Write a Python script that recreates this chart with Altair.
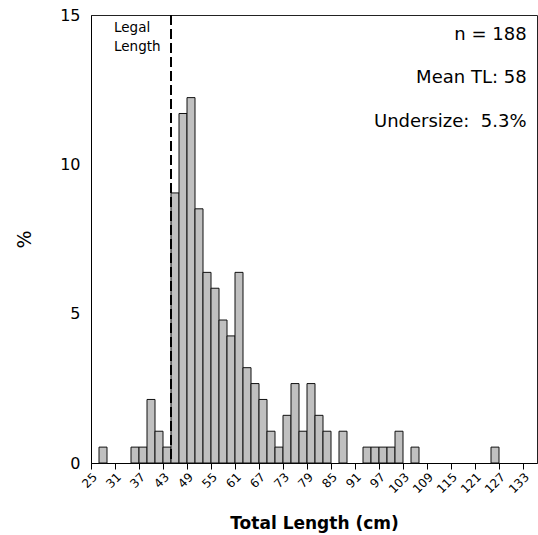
import altair as alt
import pandas as pd

# Histogram data: lower edge of each 2-cm bin and fish count in it
bin_start = [27, 35, 37, 39, 41, 43, 45, 47, 49, 51, 53, 55, 57, 59, 61, 63, 65,
             67, 69, 71, 73, 75, 77, 79, 81, 83, 87, 93, 95, 97, 99, 101, 105, 125]
counts = [1, 1, 1, 4, 2, 1, 17, 22, 23, 16, 12, 11, 9, 8, 12, 6, 5,
          4, 2, 1, 3, 5, 2, 5, 3, 2, 2, 1, 1, 1, 1, 2, 1, 1]
bin_width = 2
n_total = 188
legal_length = 45
x_ticks = list(range(25, 134, 6))
y_ticks = [0, 5, 10, 15]

stat_labels = ["n = 188", "Mean TL: 58", "Undersize:\u00a0 5.3%"]
stat_y = [14.33, 12.89, 11.42]
stat_x = [133.9, 133.9, 133.9]

legal_labels = ["Legal", "Length"]
legal_y = [14.55, 13.92]
legal_x = [30.75, 30.75]

FONT = "DejaVu Sans"

df = pd.DataFrame({
    "start": bin_start,
    "end": [s + bin_width for s in bin_start],
    "pct": [c / n_total * 100 for c in counts],
})

x_scale = alt.Scale(domain=[25, 136.5], nice=False, zero=False)
y_scale = alt.Scale(domain=[0, 15], nice=False)

x_axis = alt.Axis(values=x_ticks, labelAngle=-45, title="Total Length (cm)",
                  titleFontWeight="bold", titleFontSize=17, titlePadding=21,
                  labelFontSize=12, tickSize=6, labelPadding=2, grid=False,
                  labelFlush=False, labelOverlap=False, labelBound=False)
y_axis = alt.Axis(values=y_ticks, title="%", titleFontSize=19,
                  titleFontWeight="normal", titlePadding=25,
                  labelFontSize=16, ticks=False, tickSize=0, labelPadding=11,
                  grid=False)

bars = alt.Chart(df).mark_rect(fill="#c0c0c0", stroke="#111111", strokeWidth=1).encode(
    x=alt.X("start:Q", scale=x_scale, axis=x_axis),
    x2="end:Q",
    y=alt.Y("pct:Q", scale=y_scale, axis=y_axis),
    y2=alt.datum(0),
)

rule = alt.Chart(pd.DataFrame({"x": [legal_length]})).mark_rule(
    strokeDash=[10, 4], strokeWidth=2, color="black"
).encode(x=alt.X("x:Q", scale=x_scale, axis=x_axis))

stats = alt.Chart(pd.DataFrame({"x": stat_x, "y": stat_y, "t": stat_labels})).mark_text(
    align="right", baseline="middle", fontSize=18, font=FONT, color="black"
).encode(x=alt.X("x:Q", scale=x_scale, axis=x_axis),
         y=alt.Y("y:Q", scale=y_scale, axis=y_axis), text="t:N")

legal = alt.Chart(pd.DataFrame({"x": legal_x, "y": legal_y, "t": legal_labels})).mark_text(
    align="left", baseline="middle", fontSize=13.5, font=FONT, color="black"
).encode(x=alt.X("x:Q", scale=x_scale, axis=x_axis),
         y=alt.Y("y:Q", scale=y_scale, axis=y_axis), text="t:N")

chart = alt.layer(bars, rule, stats, legal).properties(
    width=446, height=448,
    padding={"left": 91, "top": 15, "right": 1, "bottom": 72},
    autosize="none",
).configure_view(
    stroke="#222222", strokeWidth=1
).configure_axis(
    domainColor="black", tickColor="black", labelColor="black", titleColor="black",
    labelFont=FONT, titleFont=FONT, domainWidth=1
)

chart.save("out.html", embed_options={"renderer": "svg", "actions": False})
